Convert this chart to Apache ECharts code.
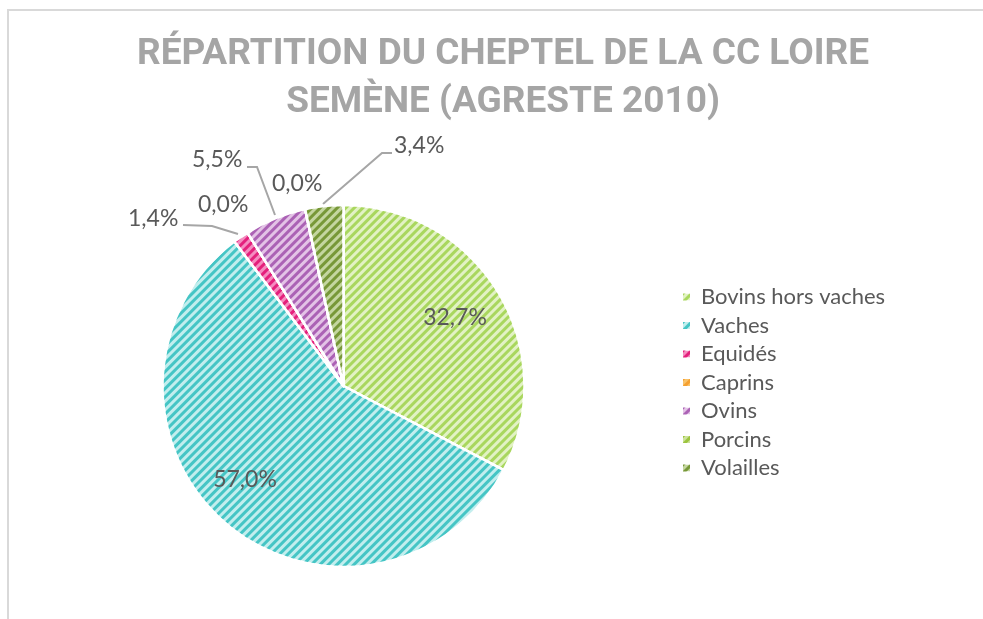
<!DOCTYPE html>
<html>
<head>
<meta charset="utf-8">
<script src="https://cdn.jsdelivr.net/npm/echarts@6/dist/echarts.min.js"></script>
<style>
  html, body { margin: 0; padding: 0; background: #fff; }
  #chart { width: 983px; height: 619px; }
</style>
</head>
<body>
<div id="chart"></div>
<script>
// données : répartition du cheptel (%)
const categories = ['Bovins hors vaches', 'Vaches', 'Equidés', 'Caprins', 'Ovins', 'Porcins', 'Volailles']
const values = [32.7, 57.0, 1.4, 0.0, 5.5, 0.0, 3.4]
const baseColors = ['#e2f2c4', '#c2eeee', '#f48cc0', '#f9c36a', '#e3c3e6', '#cde39a', '#c4d6a0']
const hatchColors = ['#a9d75e', '#45c5c5', '#e4207c', '#f5a030', '#ab62b5', '#9cc43f', '#779838']

const cx = 343.5, cy = 386, R = 181

// labels placés à la main (comme dans Excel)
// extérieurs : bord gauche + centre vertical ; intérieurs : centre
const labelPos = {
  'Equidés': [128, 219],
  'Caprins': [198, 205],
  'Ovins': [192, 160],
  'Porcins': [272, 184],
  'Volailles': [394, 146]
}
const innerLabelPos = {
  'Bovins hors vaches': [455, 318],
  'Vaches': [245, 480]
}
const leaderLines = {
  'Equidés': [[238, 234], [212, 226], [183, 225]],
  'Ovins': [[275, 215], [257, 167], [247, 167]],
  'Volailles': [[323, 204], [382, 153], [392, 153]]
}

const total = values.reduce((a, b) => a + b, 0)
const midAngle = (i) => {
  let cum = 0
  for (let k = 0; k < i; k++) cum += values[k]
  return (cum + values[i] / 2) / total * Math.PI * 2
}

const myChart = echarts.init(document.getElementById('chart'))

myChart.setOption({
  animation: false,
  title: {
    text: 'RÉPARTITION DU CHEPTEL DE LA CC LOIRE\nSEMÈNE (AGRESTE 2010)',
    left: 503,
    top: 31,
    padding: 0,
    textAlign: 'center',
    textStyle: {
      fontFamily: 'Roboto, sans-serif',
      fontWeight: 'bold',
      fontSize: 37,
      lineHeight: 48,
      color: '#a5a5a5'
    }
  },
  legend: {
    orient: 'vertical',
    left: 681,
    top: 286,
    padding: 0,
    itemWidth: 9,
    itemHeight: 9,
    itemGap: 6.5,
    icon: 'rect',
    data: categories,
    textStyle: {
      fontFamily: 'Lato, sans-serif',
      fontSize: 22,
      lineHeight: 22,
      padding: [0, 0, 0, 5],
      color: '#595959'
    }
  },
  graphic: [
    {
      type: 'polyline',
      shape: { points: [[8, 640], [8, 10], [1000, 10]] },
      style: { stroke: '#d9d9d9', lineWidth: 2, fill: null },
      silent: true
    }
  ],
  series: [
    {
      type: 'pie',
      center: [cx, cy],
      radius: [0, R],
      startAngle: 90,
      clockwise: true,
      avoidLabelOverlap: false,
      itemStyle: { borderColor: '#fff', borderWidth: 2.5 },
      label: {
        show: true,
        formatter: (p) => p.value.toFixed(1).replace('.', ',') + '%',
        fontFamily: 'Lato, sans-serif',
        fontSize: 23,
        color: '#595959'
      },
      labelLine: {
        show: true,
        lineStyle: { color: '#a6a6a6', width: 2 }
      },
      labelLayout: (p) => {
        const name = categories[p.dataIndex]
        const w = p.labelRect.width
        // à gauche du centre, echarts aligne le texte à droite
        const rightAligned = midAngle(p.dataIndex) > Math.PI
        if (labelPos[name]) {
          const out = {
            x: labelPos[name][0] + (rightAligned ? w : 0),
            y: labelPos[name][1]
          }
          if (leaderLines[name]) out.labelLinePoints = leaderLines[name]
          return out
        }
        // grands secteurs : label à l'intérieur
        const c = innerLabelPos[name]
        return {
          x: c[0] + (rightAligned ? w / 2 : -w / 2),
          y: c[1]
        }
      },
      data: categories.map((name, i) => ({
        name: name,
        value: values[i],
        itemStyle: {
          color: baseColors[i],
          decal: {
            symbol: 'rect',
            symbolSize: 1,
            dashArrayX: [1, 0],
            dashArrayY: [2.5, 2.5],
            rotation: -Math.PI / 4,
            color: hatchColors[i]
          }
        },
        labelLine: { show: !!leaderLines[name] }
      }))
    }
  ]
})
</script>
</body>
</html>
